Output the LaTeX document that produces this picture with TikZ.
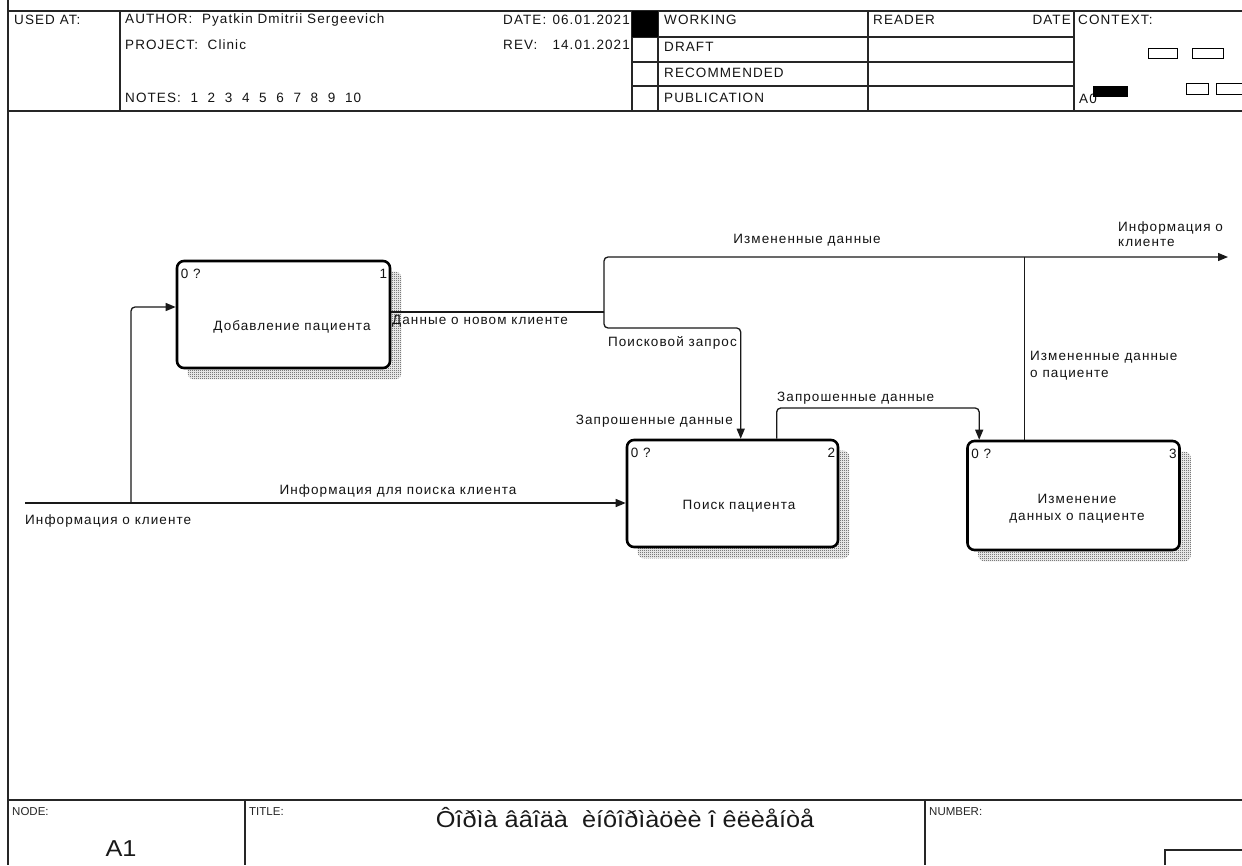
\documentclass[tikz,border=0pt]{standalone}
\usepackage{fontspec}
\setmainfont{Liberation Sans}
\newfontfamily\formfont[LetterSpace=8]{Liberation Sans}
\newfontfamily\widefont[FakeStretch=1.1]{Liberation Sans}
\usetikzlibrary{arrows.meta,patterns,backgrounds,calc}

% 2x2 checkerboard used for the drop shadows of the activity boxes
\pgfdeclarepatternformonly{checker}{\pgfpointorigin}{\pgfpoint{2pt}{2pt}}{\pgfpoint{2pt}{2pt}}{
  \pgfpathrectangle{\pgfpointorigin}{\pgfpoint{1pt}{1pt}}
  \pgfpathrectangle{\pgfpoint{1pt}{1pt}}{\pgfpoint{1pt}{1pt}}
  \pgfusepath{fill}
}

\tikzset{
  x=1pt, y=-1pt,
  txt/.style={inner sep=0pt, font=\formfont\fontsize{13.5}{17}\selectfont, text=black!92},
  hdr/.style={txt},
  frameline/.style={line width=2pt, black!85},
  gridline/.style={line width=1.3pt, black!85},
  actbox/.style={draw=black, line width=2.6pt, rounded corners=7pt, fill=white, inner sep=0pt},
  shadow/.style={pattern=checker, pattern color=black!80},
  flow/.style={line width=1.3pt, black!90, rounded corners=4pt},
  tip/.style={-{Triangle[length=10pt,width=8pt]}},
  smallkey/.style={inner sep=0pt, font=\fontsize{11.5}{13}\selectfont, text=black!85},
  bigval/.style={inner sep=0pt, font=\widefont\fontsize{23}{26}\selectfont, text=black!90}
}

\begin{document}
\begin{tikzpicture}
\useasboundingbox (0,0) rectangle (1242,865);
\begin{scope}[on background layer]
  \fill[white] (0,0) rectangle (1242,865);
\end{scope}

% ---------- form frame ----------
\draw[frameline] (8,0) -- (8,865);
\draw[frameline] (8,11) -- (1242,11);
\draw[frameline] (8,111) -- (1242,111);
\draw[frameline] (8,800) -- (1242,800);

% header grid
\draw[gridline] (120,11) -- (120,111);
\draw[gridline] (632,11) -- (632,111);
\draw[gridline] (658,11) -- (658,111);
\draw[gridline] (868,11) -- (868,111);
\draw[gridline] (1074,11) -- (1074,111);
\foreach \yy in {37,62,86} \draw[gridline] (632,\yy) -- (1074,\yy);
\fill[black] (632,11) rectangle (658,37);

% context thumbnails
\node[hdr, anchor=west] (ctxA0) at (1079,99) {A0};
\fill[black] (1093,86) rectangle (1128,97);
\draw[line width=1pt] (1148,48) rectangle (1177,58);
\draw[line width=1pt] (1192,48) rectangle (1223,58);
\draw[line width=1pt] (1186,83) rectangle (1208,94);
\draw[line width=1pt] (1216,83) -- (1216,94) (1216,83) -- (1244,83) (1216,94) -- (1244,94);

% header texts
\node[hdr, anchor=west] (usedat) at (14,20) {USED AT:};
\node[hdr, anchor=west] (author) at (125,20) {AUTHOR:\ \ Pyatkin Dmitrii Sergeevich};
\node[hdr, anchor=west] (project) at (125,45) {PROJECT:\ \ Clinic};
\node[hdr, anchor=west] (notes) at (125,98) {NOTES:\ \ 1\ \ 2\ \ 3\ \ 4\ \ 5\ \ 6\ \ 7\ \ 8\ \ 9\ \ 10};
\node[hdr, anchor=west] (datek) at (503,20) {DATE:};
\node[hdr, anchor=east] (datev) at (630,20) {06.01.2021};
\node[hdr, anchor=west] (revk) at (503,45) {REV:};
\node[hdr, anchor=east] (revv) at (630,45) {14.01.2021};
\node[hdr, anchor=west] (working) at (664,20) {WORKING};
\node[hdr, anchor=west] (draft) at (664,47) {DRAFT};
\node[hdr, anchor=west] (recomm) at (664,73) {RECOMMENDED};
\node[hdr, anchor=west] (public) at (664,98) {PUBLICATION};
\node[hdr, anchor=west] (reader) at (873,20) {READER};
\node[hdr, anchor=east] (rdate) at (1071,20) {DATE};
\node[hdr, anchor=west] (context) at (1078,20) {CONTEXT:};

% footer
\draw[gridline] (245,800) -- (245,865);
\draw[gridline] (925,800) -- (925,865);
\draw[gridline] (1165,865) -- (1165,850) -- (1244,850);
\node[smallkey, anchor=west] (nodek) at (12,812) {NODE:};
\node[smallkey, anchor=west] (titlek) at (249,812) {TITLE:};
\node[smallkey, anchor=west] (numberk) at (929,812) {NUMBER:};
\node[bigval] (nodev) at (121,849) {A1};
\node[bigval] (titlev) at (625,818) {Ôîðìà ââîäà\ \ èíôîðìàöèè î êëèåíòå};

% ---------- activity boxes ----------
\node[actbox, minimum width=213pt, minimum height=107pt] (b1) at (283.5,314.5) {};
\node[actbox, minimum width=211pt, minimum height=107pt] (b2) at (732.5,493.5) {};
\node[actbox, minimum width=212pt, minimum height=109pt] (b3) at (1073.5,495.5) {};

\begin{scope}[on background layer]
  \foreach \b in {b1,b2,b3}
    \fill[shadow, rounded corners=6pt] ($(\b.north west)+(12,12)$) rectangle ($(\b.south east)+(10,10)$);
\end{scope}

\node[txt] (b1t) at (292,327) {Добавление пациента};
\node[txt] (b2t) at (739,506) {Поиск пациента};
\node[txt, align=center] (b3t) at (1077,509) {Изменение\\данных о пациенте};
\node[txt, anchor=west] (b1z) at ($(b1.north west)+(5,14)$) {0 ?};
\node[txt, anchor=east] (b1n) at ($(b1.north east)+(-4,14)$) {1};
\node[txt, anchor=west] (b2z) at ($(b2.north west)+(5,14)$) {0 ?};
\node[txt, anchor=east] (b2n) at ($(b2.north east)+(-4,14)$) {2};
\node[txt, anchor=west] (b3z) at ($(b3.north west)+(5,14)$) {0 ?};
\node[txt, anchor=east] (b3n) at ($(b3.north east)+(-4,14)$) {3};

% ---------- connectors ----------
\coordinate (inL) at (25,503);
\coordinate (fork1) at (131,503);
\coordinate (b1in) at ($(b1.west)+(0,-7.5)$);
\coordinate (b1out) at ($(b1.east)+(0,-2.5)$);
\coordinate (fork2) at (604,312);
\coordinate (topR) at (1228,257);
\coordinate (b2top) at ($(b2.north west)+(115,0)$);
\coordinate (b2top2) at ($(b2.north west)+(151,0)$);
\coordinate (b3top) at ($(b3.north west)+(13,0)$);
\coordinate (b3top2) at ($(b3.north west)+(58,0)$);

\draw[flow, tip] (inL) -- (b2.west |- inL);
\draw[flow, tip] (fork1) -- (131,307) -- (b1in);
\draw[flow] (b1out) -- (fork2);
\draw[flow, tip] (fork2) -- (604,257) -- (topR);
\draw[flow, tip] (fork2) -- (604,328) -- (b2top |- 0,328) -- (b2top);
\draw[flow, tip] (b2top2) -- (b2top2 |- 0,408) -- (b3top |- 0,408) -- (b3top);
\draw[flow] (b3top2) -- (b3top2 |- topR);

% connector labels
\node[txt, anchor=west] (lInfo) at (25,521) {Информация о клиенте};
\node[txt] (lSearch) at (398,491) {Информация для поиска клиента};
\node[txt, anchor=west] (lNew) at (392,321) {Данные о новом клиенте};
\node[txt] (lChanged) at (807,240) {Измененные данные};
\node[txt, anchor=west, align=left, font=\formfont\fontsize{13.5}{15}\selectfont] (lOut) at (1118,234) {Информация о\\клиенте};
\node[txt, anchor=east] (lQuery) at (737,343) {Поисковой запрос};
\node[txt, anchor=east] (lReq1) at (733,421) {Запрошенные данные};
\node[txt, anchor=west] (lReq2) at (777,398) {Запрошенные данные};
\node[txt, anchor=west, align=left] (lPat) at (1030,366) {Измененные данные\\о пациенте};
\end{tikzpicture}
\end{document}
